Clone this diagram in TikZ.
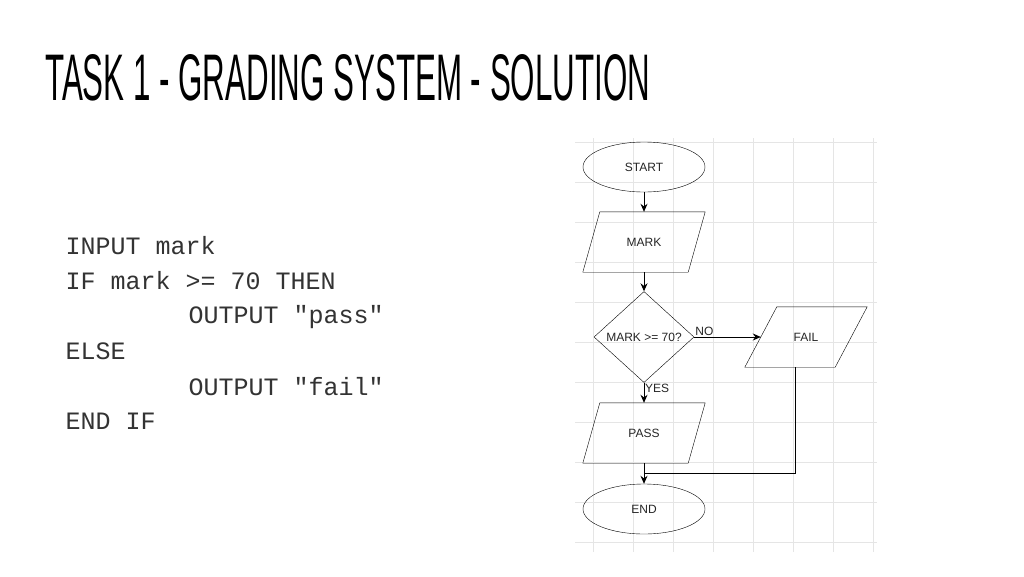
\documentclass[tikz,border=0pt]{standalone}
\usepackage{fontspec}
\setmainfont{Liberation Sans}
\newfontfamily\codefont{Liberation Mono}
\newfontfamily\titlefont{Liberation Sans}
\usetikzlibrary{shapes.geometric,arrows.meta}
\begin{document}
\begin{tikzpicture}[x=1pt,y=-1pt,
  lbl/.style={font=\fontsize{12}{12}\selectfont, text=black!85},
  term/.style={draw, ellipse, minimum width=122, minimum height=50, lbl},
  io/.style={minimum width=105, minimum height=60, inner sep=0, lbl},
  dec/.style={draw, diamond, minimum width=100, minimum height=91, inner sep=0, lbl},
  flow/.style={-{Stealth[length=8pt,width=7pt]}, line width=1pt},
  code/.style={anchor=west, font=\codefont\fontsize{25}{25}\selectfont, text=black!80}]
\useasboundingbox (0,0) rectangle (1024,576);
\fill[white] (0,0) rectangle (1024,576);
\foreach \x in {593,633,673,713,753,793,833,873} \draw[black!10] (\x,138) -- (\x,552);
\foreach \y in {142,182,222,262,302,342,382,422,462,502,542} \draw[black!10] (575,\y) -- (877,\y);
\node[anchor=west, inner sep=0] (title) at (45,78) {\resizebox{605pt}{46pt}{\titlefont\fontsize{40}{40}\selectfont TASK 1 - GRADING SYSTEM - SOLUTION}};
\node[code] (c1) at (62,246) {INPUT mark};
\node[code] (c2) at (62,281) {IF mark >= 70 THEN};
\node[code] (c3) at (185,317) {OUTPUT "pass"};
\node[code] (c4) at (62,351) {ELSE};
\node[code] (c5) at (185,387) {OUTPUT "fail"};
\node[code] (c6) at (62,421) {END IF};
\node[term] (start) at (644,167) {START};
\node[io] (mark) at (644,242) {MARK};
\node[dec] (dec) at (644,337) {MARK >= 70?};
\node[io, minimum width=90] (fail) at (806,337) {FAIL};
\node[io] (pass) at (644,433) {PASS};
\node[term] (end) at (644,509) {END};
\foreach \n/\s in {mark/8.5, pass/8.5, fail/16}
  \draw ([xshift=\s]\n.north west) -- ([xshift=\s]\n.north east) -- ([xshift=-\s]\n.south east) -- ([xshift=-\s]\n.south west) -- cycle;
\draw[flow] (start) -- (mark);
\draw[flow] (mark) -- (dec);
\draw[flow] (dec) -- (pass);
\draw[flow] (dec.east) -- (fail.west);
\draw[flow] (pass) -- (end);
\coordinate (j) at (644,473);
\draw[line width=1pt] (795,367) -- (795,473) -- (j);
\node[lbl, anchor=south west, inner sep=1] (no) at (dec.east) {NO};
\node[lbl, anchor=north west, inner sep=1] (yes) at (dec.south) {YES};
\end{tikzpicture}
\end{document}
